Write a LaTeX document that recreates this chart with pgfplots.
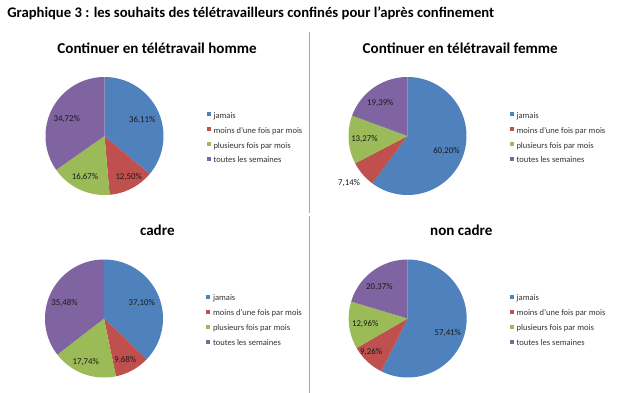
\documentclass[border=0pt]{standalone}
\usepackage{fontspec}
\setmainfont{Carlito}
\usepackage{pgfplots}
\usepackage{pgfplotstable}
\pgfplotsset{compat=1.18}

\definecolor{cjam}{HTML}{4F81BD}
\definecolor{cmoins}{HTML}{C0504D}
\definecolor{cplus}{HTML}{9BBB59}
\definecolor{ctout}{HTML}{8064A2}
\definecolor{sep}{HTML}{A6A6A6}

% value, label text, label position (in radius units)
\pgfplotstableread{
v lab lx ly
36.11 36,11 0.64 0.27
12.50 12,50 0.41 -0.69
16.67 16,67 -0.33 -0.69
34.72 34,72 -0.64 0.29
}\tabA
\pgfplotstableread{
v lab lx ly
60.20 60,20 0.66 -0.25
7.14 7,14 -0.99 -0.79
13.27 13,27 -0.73 -0.05
19.39 19,39 -0.46 0.55
}\tabB
\pgfplotstableread{
v lab lx ly
37.10 37,10 0.64 0.26
9.68 9,68 0.36 -0.70
17.74 17,74 -0.31 -0.73
35.48 35,48 -0.67 0.27
}\tabC
\pgfplotstableread{
v lab lx ly
57.41 57,41 0.68 -0.24
9.26 9,26 -0.62 -0.57
12.96 12,96 -0.72 -0.09
20.37 20,37 -0.48 0.53
}\tabD

\newcommand\pieangles[1]{%
  \pgfplotstablegetelem{0}{v}\of#1\pgfmathsetmacro\aB{90-3.6*\pgfplotsretval}%
  \pgfplotstablegetelem{1}{v}\of#1\pgfmathsetmacro\aC{\aB-3.6*\pgfplotsretval}%
  \pgfplotstablegetelem{2}{v}\of#1\pgfmathsetmacro\aD{\aC-3.6*\pgfplotsretval}%
}
\newcommand\pieslices[1]{%
  \addplot[fill=cjam, draw=none, domain=\aB:90, samples=90] ({cos(x)},{sin(x)}) -- (0,0) -- cycle;
  \addplot[fill=cmoins, draw=none, domain=\aC:\aB, samples=90] ({cos(x)},{sin(x)}) -- (0,0) -- cycle;
  \addplot[fill=cplus, draw=none, domain=\aD:\aC, samples=90] ({cos(x)},{sin(x)}) -- (0,0) -- cycle;
  \addplot[fill=ctout, draw=none, domain=-270:\aD, samples=90] ({cos(x)},{sin(x)}) -- (0,0) -- cycle;
  \addplot[forget plot, draw=none, mark=none, point meta=explicit symbolic,
    nodes near coords={\pgfplotspointmeta\%},
    nodes near coords style={anchor=center, inner sep=0pt, font=\fontsize{6.6}{7}\selectfont, text=black!90}]
    table[x=lx, y=ly, meta=lab] {#1};
  \legend{jamais, moins d’une fois par mois, plusieurs fois par mois, toutes les semaines}
}

\pgfplotsset{
  pie/.style={
    anchor=center, width=88.5pt, height=88.5pt, scale only axis, hide axis,
    xmin=-1, xmax=1, ymin=-1, ymax=1, clip=false,
    title style={font=\fontsize{11.3}{13}\selectfont\bfseries, anchor=base, inner sep=0pt},
    legend style={draw=none, fill=none, at={(1.365,0.48)}, anchor=west,
      inner sep=0pt, outer sep=0pt, row sep=5.3pt,
      font=\fontsize{6.4}{7}\selectfont, text=black!80,
      nodes={inner sep=0pt, text height=4.6pt, text depth=1.3pt}},
    legend cell align=left,
    legend image code/.code={\fill[##1] (0pt,-0.2pt) rectangle (3pt,2.8pt); \path (5.2pt,0pt);},
  }
}

\begin{document}
\begin{tikzpicture}
\useasboundingbox (0pt,0pt) rectangle (483pt,-294.75pt);
\node[anchor=base west, inner sep=0pt, font=\fontsize{11}{13}\selectfont\bfseries] at (5.25pt,-12.75pt)
  {Graphique 3 : les souhaits des télétravailleurs confinés pour l’après confinement};
\draw[sep, line width=0.75pt] (232.125pt,-24pt) -- (232.125pt,-160pt);
\draw[sep, line width=0.75pt] (232.125pt,-161.8pt) -- (232.125pt,-294.75pt);

\pieangles{\tabA}
\begin{axis}[pie, at={(78.375pt,-102pt)}, title={Continuer en télétravail homme},
  title style={at={(axis description cs:0.945,1.132)}}]
\pieslices{\tabA}
\end{axis}

\pieangles{\tabB}
\begin{axis}[pie, at={(305.625pt,-102pt)}, title={Continuer en télétravail femme},
  title style={at={(axis description cs:0.947,1.132)}}]
\pieslices{\tabB}
\end{axis}

\pieangles{\tabC}
\begin{axis}[pie, at={(78pt,-238.875pt)}, title={cadre},
  title style={at={(axis description cs:0.952,1.137)}}]
\pieslices{\tabC}
\end{axis}

\pieangles{\tabD}
\begin{axis}[pie, at={(305.775pt,-238.875pt)}, title={non cadre},
  title style={at={(axis description cs:0.954,1.137)}}]
\pieslices{\tabD}
\end{axis}
\end{tikzpicture}
\end{document}
